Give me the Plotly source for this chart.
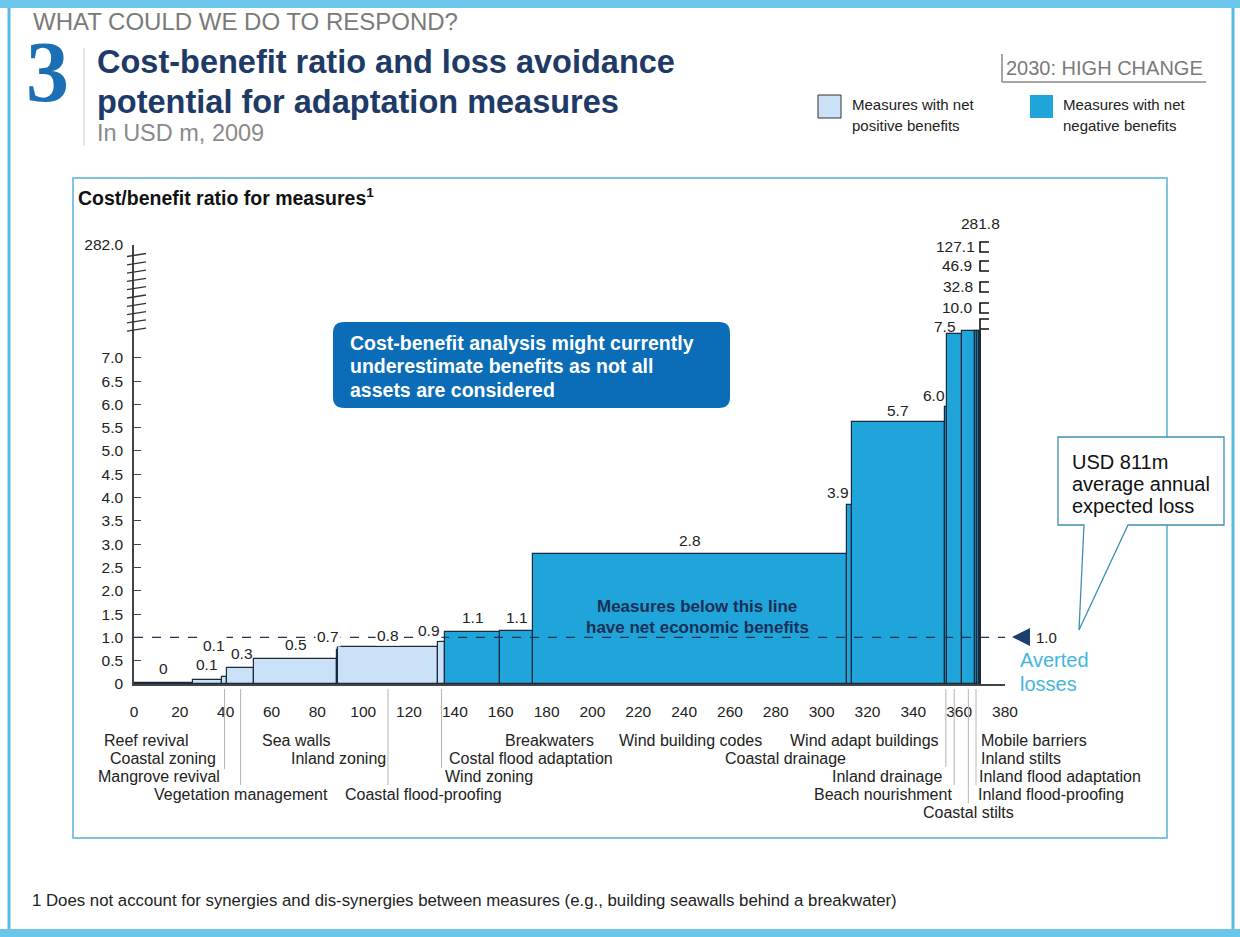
import plotly.graph_objects as go
import numpy as np

# ---------------- data ----------------
measures = ["Reef revival", "Coastal zoning", "Mangrove revival", "Vegetation management",
            "Sea walls", "Inland zoning", "Coastal flood-proofing", "Wind zoning",
            "Costal flood adaptation", "Breakwaters", "Wind building codes", "Coastal drainage",
            "Wind adapt buildings", "Inland drainage", "Beach nourishment", "Coastal stilts",
            "Inland flood-proofing", "Inland flood adaptation", "Inland stilts", "Mobile barriers"]
# averted losses (bar widths, USD m)
averted = [25.7, 12.7, 2.2, 11.8, 36.2, 0.4, 43.6, 3.1, 24.0, 14.4,
           136.9, 2.1, 40.7, 0.8, 6.5, 5.8, 0.9, 0.9, 0.5, 0.5]
# cost/benefit ratio (bar heights as read)
ratio = [0.03, 0.08, 0.15, 0.35, 0.53, 0.72, 0.79, 0.9, 1.12, 1.13,
         2.8, 3.85, 5.62, 5.95, 7.5, 10.0, 32.8, 46.9, 127.1, 281.8]
ratio_labels = ["0", "0.1", "0.1", "0.3", "0.5", "0.7", "0.8", "0.9", "1.1", "1.1",
                "2.8", "3.9", "5.7", "6.0", "7.5", "10.0", "32.8", "46.9", "127.1", "281.8"]
x_ticks = list(range(0, 381, 20))
y_ticks = [0, 0.5, 1.0, 1.5, 2.0, 2.5, 3.0, 3.5, 4.0, 4.5, 5.0, 5.5, 6.0, 6.5, 7.0]
y_tick_labels = ["0", "0.5", "1.0", "1.5", "2.0", "2.5", "3.0", "3.5", "4.0", "4.5",
                 "5.0", "5.5", "6.0", "6.5", "7.0"]
y_max_label = "282.0"
threshold = 1.0

# ---------------- layout constants ----------------
W, H = 1240, 937
L, R, T, B = 134, 1005, 245, 684
PW, PH = R - L, B - T
Y_TOP = 9.42          # display position of the broken-axis top tick
CAP = 7.58            # broken bars are drawn up to here
FONT = "Liberation Sans, Arial, sans-serif"
LIGHT = "#cbe1f7"
DARK = "#1fa5da"
NAVY = "#1e3a66"


def PX(x):
    return (x - L) / PW


def PY(y):
    return (B - y) / PH


left = np.concatenate([[0], np.cumsum(averted)[:-1]])
widths = np.array(averted)
centers = left + widths / 2
heights = np.minimum(np.array(ratio), CAP)
colors = [LIGHT if r < threshold else DARK for r in ratio]

fig = go.Figure()
fig.add_trace(go.Bar(
    x=centers, y=heights, width=widths,
    marker=dict(color=colors, line=dict(color="#1b2a3a", width=1.2)),
    hoverinfo="skip", showlegend=False))

shapes = []
ann = []


def txt(text, x, y, size, color="#222", bold=False, xanchor="left", yanchor="middle", family=FONT, bg=None):
    d = dict(text=("<b>%s</b>" % text) if bold else text, x=PX(x), y=PY(y),
             xref="paper", yref="paper", showarrow=False, xanchor=xanchor, yanchor=yanchor,
             font=dict(size=size, color=color, family=family))
    if bg:
        d["bgcolor"] = bg
    ann.append(d)


def line(x0, y0, x1, y1, color, width=1, dash=None, layer="above"):
    shapes.append(dict(type="line", xref="paper", yref="paper",
                       x0=PX(x0), y0=PY(y0), x1=PX(x1), y1=PY(y1),
                       line=dict(color=color, width=width, dash=dash), layer=layer))


def path(pts, fill, lc=None, lw=0, close=True, layer="above"):
    s = "M " + " L ".join("%f,%f" % (PX(a), PY(b)) for a, b in pts)
    if close:
        s += " Z"
    shapes.append(dict(type="path", xref="paper", yref="paper", path=s,
                       fillcolor=fill, line=dict(color=lc or fill, width=lw), layer=layer))


# ---------------- page decoration ----------------
shapes.append(dict(type="rect", xref="paper", yref="paper", x0=PX(0), x1=PX(W), y0=PY(0), y1=PY(8),
                   fillcolor="#6cc5ea", line=dict(width=0), layer="below"))
shapes.append(dict(type="rect", xref="paper", yref="paper", x0=PX(0), x1=PX(W), y0=PY(929), y1=PY(937),
                   fillcolor="#6cc5ea", line=dict(width=0), layer="below"))
line(9, 8, 9, 929, "#58bce6", 3, layer="below")
line(1233, 8, 1233, 929, "#58bce6", 3, layer="below")
shapes.append(dict(type="rect", xref="paper", yref="paper", x0=PX(73), x1=PX(1167), y0=PY(838), y1=PY(178),
                   fillcolor="rgba(0,0,0,0)", line=dict(color="#55b2d8", width=1.5), layer="below"))

# titles
txt("WHAT COULD WE DO TO RESPOND?", 31, 21, 24, "#7a7a7a")
txt("<b>3</b>", 24, 72, 86, "#1a6fb5", family="Liberation Serif, DejaVu Serif, serif")
line(84, 48, 84, 146, "#cccccc", 1)
txt("Cost-benefit ratio and loss avoidance", 95, 62, 32.5, NAVY, bold=True)
txt("potential for adaptation measures", 95, 102, 32.5, NAVY, bold=True)
txt("In USD m, 2009", 95, 133, 23.5, "#8a8a8a")

# scenario tag
txt("2030: HIGH CHANGE", 1004, 68, 20, "#7a7a7a")
line(1002, 54, 1002, 82, "#888888", 1.5)
line(1002, 82, 1206, 82, "#888888", 1.5)

# legend
shapes.append(dict(type="rect", xref="paper", yref="paper", x0=PX(818), x1=PX(841), y0=PY(118), y1=PY(95),
                   fillcolor=LIGHT, line=dict(color="#333", width=1)))
shapes.append(dict(type="rect", xref="paper", yref="paper", x0=PX(1030), x1=PX(1053), y0=PY(118), y1=PY(95),
                   fillcolor=DARK, line=dict(width=0)))
txt("Measures with net", 850, 104, 15)
txt("positive benefits", 850, 125, 15)
txt("Measures with net", 1061, 104, 15)
txt("negative benefits", 1061, 125, 15)

# chart title
txt("Cost/benefit ratio for measures<sup>1</sup>", 76, 197, 19.5, "#111", bold=True)

# footnote
txt("1 Does not account for synergies and dis-synergies between measures (e.g., building seawalls behind a breakwater)",
    30, 900, 16.8, "#222")

# ---------------- chart annotations ----------------
# threshold dashed line
shapes.append(dict(type="line", xref="x", yref="y", x0=0, x1=380 + (1010 - R) / PW * 380,
                   y0=threshold, y1=threshold, line=dict(color="#1f3350", width=1.4, dash="dash"), layer="above"))
path([(1012, 637), (1030, 628), (1030, 646)], "#1d3f6e")
txt("1.0", 1034, 637, 15)
txt("Averted", 1018, 660, 20, "#45b5e0")
txt("losses", 1018, 684, 20, "#45b5e0")

txt("Measures below this line", 697, 606, 17, "#1a2f55", bold=True, xanchor="center")
txt("have net economic benefits", 697, 627, 17, "#1a2f55", bold=True, xanchor="center")


# blue rounded callout
def rrect_path(x0, y0, x1, y1, r):
    P = lambda a, b: "%f,%f" % (PX(a), PY(b))
    return ("M %s L %s Q %s %s L %s Q %s %s L %s Q %s %s L %s Q %s %s Z" % (
        P(x0 + r, y0), P(x1 - r, y0), P(x1, y0), P(x1, y0 + r), P(x1, y1 - r), P(x1, y1), P(x1 - r, y1),
        P(x0 + r, y1), P(x0, y1), P(x0, y1 - r), P(x0, y0 + r), P(x0, y0), P(x0 + r, y0)))


shapes.append(dict(type="path", xref="paper", yref="paper", path=rrect_path(333, 322, 730, 408, 11),
                   fillcolor="#0b6db7", line=dict(width=0), layer="above"))
txt("Cost-benefit analysis might currently", 348, 343, 19.5, "white", bold=True)
txt("underestimate benefits as not all", 348, 366, 19.5, "white", bold=True)
txt("assets are considered", 348, 390, 19.5, "white", bold=True)

# expected loss speech box
path([(1058, 437), (1224, 437), (1224, 525), (1128, 525), (1079, 630), (1084, 525), (1058, 525)],
     "white", "#3d8fb5", 1.3)
txt("USD 811m", 1070, 462, 20, "#111")
txt("average annual", 1070, 484, 20, "#111")
txt("expected loss", 1070, 506, 20, "#111")

# y-axis break marks
for i in range(10):
    yy = 255 + i * 8.3
    line(127, yy + 1.5, 146, yy - 1.5, "#333", 1.3)

# value labels for regular bars
label_dx = [0, 0, -11, 1, 0, -10, 0, -12, 0, 0, 0, -11, 0, -12]
label_dy = [4, 5, 21, 4, 4, 3, 1, 1, 4, 3, 3, 2, 1, 1]
for i in range(14):
    a = dict(text=ratio_labels[i], x=centers[i], y=heights[i], xref="x", yref="y",
             showarrow=False, xanchor="center", yanchor="bottom",
             xshift=label_dx[i], yshift=label_dy[i],
             font=dict(size=15.5, color="#222", family=FONT))
    if i in (2, 5, 6, 7):
        a["bgcolor"] = "white"
    ann.append(a)

# stacked labels for the broken bars
tall_pos = [(958, "right", 326), (975, "right", 307), (975, "right", 286),
            (974, "right", 265), (977, "right", 246), (980, "center", 224)]
for k, (xp, xa, yp) in enumerate(tall_pos):
    txt(ratio_labels[14 + k], xp, yp, 15.5, "#222", xanchor=xa)
    if k < 5:
        yb = yp + (1 if k else -2)
        path([(989, yb - 5), (980, yb - 5), (980, yb + 5), (989, yb + 5)], "rgba(0,0,0,0)", "#111", 1.6, close=False)

# category labels under the x axis
rows = [740, 758, 776, 794, 812]
cat_pos = [(190, "right", 0), (218, "right", 1), (222, "right", 2), (241, "center", 3),
           (296, "center", 0), (338, "center", 1), (343, "left", 3), (443, "left", 2),
           (447, "left", 1), (503, "left", 0), (690, "center", 0), (848, "right", 1),
           (941, "right", 0), (944, "right", 2), (954, "right", 3), (968, "center", 4),
           (976, "left", 3), (977, "left", 2), (979, "left", 1), (979, "left", 0)]
for i, (xp, xa, r) in enumerate(cat_pos):
    txt(measures[i], xp, rows[r], 16, "#222", xanchor=xa)

# leader lines
leaders = {2: 769, 3: 785, 6: 785, 7: 768, 13: 767, 14: 785, 15: 803, 16: 785}
for i, yend in leaders.items():
    shapes.append(dict(type="line", xref="x", yref="paper", x0=centers[i], x1=centers[i],
                       y0=PY(689), y1=PY(yend), line=dict(color="#b5b5b5", width=1)))

fig.update_layout(
    width=W, height=H, autosize=False,
    margin=dict(l=L, r=W - R, t=T, b=H - B, pad=0),
    paper_bgcolor="white", plot_bgcolor="white",
    shapes=shapes, annotations=ann, bargap=0,
    xaxis=dict(range=[0, 380], tickvals=x_ticks, showgrid=False, zeroline=False,
               showline=True, linecolor="#444", linewidth=2, ticks="",
               tickfont=dict(size=15.5, color="#222", family=FONT), ticklabelstandoff=12),
    yaxis=dict(range=[0, Y_TOP], tickvals=y_ticks + [Y_TOP], ticktext=y_tick_labels + [y_max_label],
               showgrid=False, zeroline=False, showline=True, linecolor="#444", linewidth=1.5,
               ticks="inside", ticklen=7, tickcolor="#444", tickwidth=1.3,
               tickfont=dict(size=15.5, color="#222", family=FONT), ticklabelstandoff=6),
)

fig.write_html("out.html", config={"displayModeBar": False},
               post_script="document.body.style.margin='0';")
